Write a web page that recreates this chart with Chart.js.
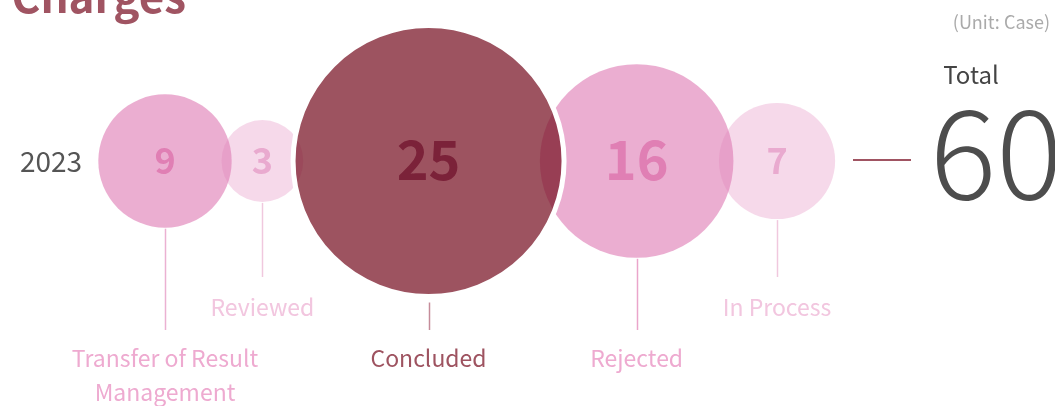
<!DOCTYPE html>
<html>
<head>
<meta charset="utf-8">
<script src="https://cdn.jsdelivr.net/npm/chart.js@4.4.1/dist/chart.umd.min.js"></script>
<style>
  html, body { margin: 0; padding: 0; background: #fff; overflow: hidden; }
  #wrap { width: 1055px; height: 406px; position: relative; }
</style>
</head>
<body>
<div id="wrap"><canvas id="casesChart" width="1055" height="406"></canvas></div>
<script>
// data
const categories = [
    ['Transfer of Result', 'Management'],
    ['Reviewed'],
    ['Concluded'],
    ['Rejected'],
    ['In Process']
];
const cases2023 = [9, 3, 25, 16, 7];
const yearLabel = '2023';
const titleText = 'for Charges';
const unitText = '(Unit: Case)';
const totalText = 'Total';

// styles
const bubbleFills = ['rgba(224,130,185,0.65)', 'rgba(224,130,185,0.3)', 'rgba(124,26,43,0.75)', 'rgba(224,130,185,0.65)', 'rgba(224,130,185,0.3)'];
const numberColors = ['#e07fb4', '#e9aacf', '#7b2239', '#e07fb4', '#e9aacf'];
const labelColors = ['#eeaad0', '#f2c6df', '#9e5360', '#eeaad0', '#f2c6df'];
const lineColors = ['#ebb1d2', '#f0c8de', '#c58c9a', '#eaa5cb', '#f0c8de'];
const FONT = '"Noto Sans CJK KR", "Noto Sans", sans-serif';

const ROW_Y = 161;
const START_X = 165;

// bubble size from value, then chain the bubbles left to right with a small overlap
const radiusFor = v => 28 + 4.3 * v;
const radii = cases2023.map(radiusFor);
const centers = [];
radii.forEach((r, i) => {
    if (i === 0) { centers.push(START_X); return; }
    const prev = radii[i - 1];
    centers.push(centers[i - 1] + prev + r - 0.25 * Math.min(prev, r));
});
const biggest = cases2023.indexOf(Math.max(...cases2023));

const datasets = cases2023.map((v, i) => ({
    label: categories[i].join(' '),
    data: [{ x: centers[i], y: ROW_Y, r: radii[i] }],
    backgroundColor: bubbleFills[i],
    borderColor: '#ffffff',
    borderWidth: i === biggest ? 5 : 0,
    hoverRadius: 0,
    order: i === biggest ? 0 : 1
}));

const annotations = {
    id: 'annotations',
    afterDatasetsDraw(chart) {
        const ctx = chart.ctx;
        ctx.save();

        // values inside the bubbles
        cases2023.forEach((v, i) => {
            const el = chart.getDatasetMeta(i).data[0];
            const size = radii[i] > 80 ? 54 : 36;
            ctx.font = 'bold ' + size + 'px ' + FONT;
            ctx.fillStyle = numberColors[i];
            ctx.textAlign = 'center';
            ctx.textBaseline = 'alphabetic';
            ctx.fillText(String(v), el.x, el.y + size * 0.36);
        });

        // leader lines and category labels
        cases2023.forEach((v, i) => {
            const el = chart.getDatasetMeta(i).data[0];
            const left = i > 0 ? cases2023[i - 1] : Infinity;
            const right = i < cases2023.length - 1 ? cases2023[i + 1] : Infinity;
            const upper = v < left && v < right;
            const top = el.y + radii[i] + (i === biggest ? 6 : 1);
            const bottom = upper ? 277 : 330;
            ctx.strokeStyle = lineColors[i];
            ctx.lineWidth = 1.5;
            ctx.beginPath();
            ctx.moveTo(Math.round(el.x) + 0.5, top);
            ctx.lineTo(Math.round(el.x) + 0.5, bottom);
            ctx.stroke();

            ctx.font = '23px ' + FONT;
            ctx.fillStyle = labelColors[i];
            ctx.textAlign = 'center';
            ctx.textBaseline = 'middle';
            const firstY = upper ? 307 : 358;
            categories[i].forEach((line, k) => {
                ctx.fillText(line, el.x, firstY + k * 34);
            });
        });

        // year on the left
        ctx.font = '28px ' + FONT;
        ctx.fillStyle = '#555555';
        ctx.textAlign = 'center';
        ctx.textBaseline = 'middle';
        ctx.fillText(yearLabel, 51, ROW_Y);

        // total block on the right
        const total = cases2023.reduce((a, b) => a + b, 0);
        ctx.strokeStyle = '#a05462';
        ctx.lineWidth = 2;
        ctx.beginPath();
        ctx.moveTo(853, 160);
        ctx.lineTo(911, 160);
        ctx.stroke();

        ctx.font = '24px ' + FONT;
        ctx.fillStyle = '#444444';
        ctx.fillText(totalText, 971, 75);

        ctx.font = '300 124px ' + FONT;
        ctx.fillStyle = '#4d4d4d';
        ctx.textAlign = 'left';
        ctx.textBaseline = 'alphabetic';
        ctx.fillText(String(total), 930, 199);

        ctx.font = '18px ' + FONT;
        ctx.fillStyle = '#aaaaaa';
        ctx.textAlign = 'right';
        ctx.textBaseline = 'middle';
        ctx.fillText(unitText, 1050, 22);

        // clipped title at the top
        ctx.font = 'bold 44px ' + FONT;
        ctx.fillStyle = '#a05462';
        ctx.textAlign = 'right';
        ctx.textBaseline = 'alphabetic';
        ctx.fillText(titleText, 186, 13);

        ctx.restore();
    }
};

new Chart(document.getElementById('casesChart').getContext('2d'), {
    type: 'bubble',
    data: { datasets: datasets },
    options: {
        responsive: false,
        animation: false,
        events: [],
        layout: { autoPadding: false, padding: 0 },
        scales: {
            x: { type: 'linear', min: 0, max: 1055, display: false },
            y: { type: 'linear', min: 0, max: 406, reverse: true, display: false }
        },
        plugins: {
            legend: { display: false },
            tooltip: { enabled: false }
        }
    },
    plugins: [annotations]
});
</script>
</body>
</html>
